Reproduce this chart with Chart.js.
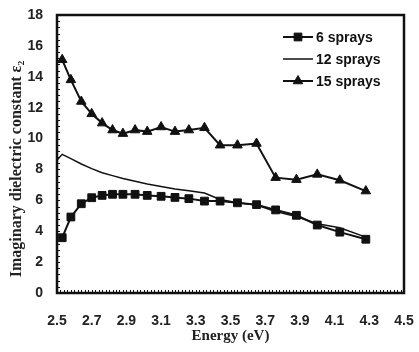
<!DOCTYPE html>
<html>
<head>
<meta charset="utf-8">
<script src="https://cdn.jsdelivr.net/npm/chart.js@4.4.1/dist/chart.umd.min.js"></script>
<style>
  html, body { margin: 0; padding: 0; background: #fff; }
  #wrap { width: 419px; height: 352px; position: relative; }
</style>
</head>
<body>
<div id="wrap"><canvas id="c"></canvas></div>
<script>
// Photon energy (eV) of each measured point
const energy = [2.53, 2.58, 2.64, 2.70, 2.76, 2.82, 2.88, 2.95, 3.02, 3.10, 3.18,
                3.26, 3.35, 3.44, 3.54, 3.65, 3.76, 3.88, 4.00, 4.13, 4.28];
// The 12-spray film has one extra reading just below 2.5 eV
const energy12 = [2.48, 2.53, 2.58, 2.64, 2.70, 2.76, 2.82, 2.88, 2.95, 3.02, 3.10, 3.18,
                  3.26, 3.35, 3.44, 3.54, 3.65, 3.76, 3.88, 4.00, 4.13, 4.28];

// Imaginary dielectric constant ε2 for each film
const sprays6  = [3.58, 4.92, 5.78, 6.17, 6.32, 6.39, 6.39, 6.39, 6.32, 6.26, 6.19,
                  6.11, 5.95, 5.95, 5.84, 5.72, 5.38, 5.03, 4.40, 3.94, 3.48];
const sprays12 = [8.35, 8.98, 8.70, 8.35, 8.05, 7.79, 7.60, 7.41, 7.23, 7.06, 6.90, 6.74,
                  6.62, 6.47, 6.05, 5.85, 5.70, 5.28, 4.95, 4.48, 4.22, 3.62];
const sprays15 = [15.1, 13.8, 12.4, 11.6, 11.0, 10.55, 10.32, 10.55, 10.45, 10.75, 10.45,
                  10.55, 10.7, 9.57, 9.57, 9.68, 7.47, 7.34, 7.68, 7.30, 6.60];

const seriesNames = ['6 sprays', '12 sprays', '15 sprays'];
const xTicks = [2.5, 2.7, 2.9, 3.1, 3.3, 3.5, 3.7, 3.9, 4.1, 4.3, 4.5];
const yTicks = [0, 2, 4, 6, 8, 10, 12, 14, 16, 18];
const yTitle = 'Imaginary dielectric constant ε₂';

const INK = '#111';
const SANS = "'Liberation Sans', Arial, sans-serif";
const SERIF = "'Liberation Serif', 'DejaVu Serif', serif";
const tickFont = { family: SANS, size: 14, weight: 'bold' };
const titleFont = { family: SERIF, size: 15, weight: 'bold' };

const pts = (xs, ys) => xs.map((x, i) => ({ x: x, y: ys[i] }));

// Plot frame plus small inward minor ticks along the bottom and left edges
const framePlugin = {
  id: 'frame',
  afterDraw(chart) {
    const { ctx, chartArea: a, scales } = chart;
    ctx.save();
    ctx.strokeStyle = INK;
    ctx.lineWidth = 1;
    const xs = scales.x, ys = scales.y;
    for (let i = 0; i <= 100; i++) {
      const px = Math.round(xs.getPixelForValue(xs.min + i * 0.02)) + 0.5;
      ctx.beginPath(); ctx.moveTo(px, a.bottom); ctx.lineTo(px, a.bottom - 3); ctx.stroke();
    }
    for (let i = 0; i <= 45; i++) {
      const py = Math.round(ys.getPixelForValue(ys.min + i * 0.4)) + 0.5;
      ctx.beginPath(); ctx.moveTo(a.left, py); ctx.lineTo(a.left + 3, py); ctx.stroke();
    }
    ctx.lineWidth = 2.5;
    ctx.strokeRect(a.left, a.top, a.right - a.left, a.bottom - a.top);

    // vertical axis title, set a little below the axis midpoint
    ctx.translate(17, a.bottom - 124);
    ctx.rotate(-Math.PI / 2);
    ctx.font = `bold 16px ${SERIF}`;
    ctx.fillStyle = '#222';
    ctx.textAlign = 'center';
    ctx.textBaseline = 'middle';
    ctx.fillText(yTitle, 0, 0);
    ctx.restore();
  }
};

// Legend box inside the upper-right corner of the plot
const legendPlugin = {
  id: 'innerLegend',
  afterDraw(chart) {
    const { ctx, chartArea: a } = chart;
    ctx.save();
    ctx.font = `bold 14px ${SANS}`;
    ctx.textBaseline = 'middle';
    ctx.textAlign = 'left';
    chart.data.datasets.forEach((ds, i) => {
      const y = a.top + 22 + i * 22;
      const x0 = a.right - 121, x1 = a.right - 91;
      ctx.strokeStyle = ds.borderColor;
      ctx.lineWidth = ds.borderWidth;
      ctx.beginPath(); ctx.moveTo(x0, y); ctx.lineTo(x1, y); ctx.stroke();
      if (ds.pointRadius > 0) {
        ctx.fillStyle = ds.pointBackgroundColor;
        ctx.strokeStyle = ds.pointBorderColor;
        ctx.lineWidth = 1;
        Chart.helpers.drawPoint(ctx, { pointStyle: ds.pointStyle, radius: ds.pointRadius, rotation: 0, borderWidth: 1 },
          (x0 + x1) / 2, y);
      }
      ctx.fillStyle = INK;
      ctx.fillText(ds.label, x1 + 3, y + 1);
    });
    ctx.restore();
  }
};

new Chart(document.getElementById('c'), {
  type: 'line',
  data: {
    datasets: [
      {
        label: seriesNames[0], data: pts(energy, sprays6),
        borderColor: INK, borderWidth: 2, pointStyle: 'rect', pointRadius: 5.5,
        pointBackgroundColor: INK, pointBorderColor: INK, pointBorderWidth: 1
      },
      {
        label: seriesNames[1], data: pts(energy12, sprays12),
        borderColor: INK, borderWidth: 1.5, pointRadius: 0,
        pointBackgroundColor: INK, pointBorderColor: INK
      },
      {
        label: seriesNames[2], data: pts(energy, sprays15),
        borderColor: INK, borderWidth: 2, pointStyle: 'triangle', pointRadius: 5.5,
        pointBackgroundColor: INK, pointBorderColor: INK, pointBorderWidth: 1
      }
    ]
  },
  options: {
    responsive: true,
    maintainAspectRatio: false,
    animation: false,
    layout: { padding: { top: 15, right: 15, left: 0, bottom: 0 } },
    plugins: { legend: { display: false }, tooltip: { enabled: false } },
    elements: { line: { tension: 0 } },
    scales: {
      x: {
        type: 'linear', position: 'bottom', min: 2.5, max: 4.5,
        afterBuildTicks: s => { s.ticks = xTicks.map(v => ({ value: v })); },
        afterFit: s => { s.height = 59; s.paddingLeft = 0; s.paddingRight = 0; },
        grid: { display: false, drawTicks: false },
        border: { display: false },
        ticks: { font: tickFont, color: '#222', padding: 20, maxRotation: 0, callback: v => v.toFixed(1) },
        title: { display: true, text: 'Energy (eV)', font: titleFont, color: '#222', padding: { top: 0, bottom: 7 } }
      },
      y: {
        min: 0, max: 18,
        afterBuildTicks: s => { s.ticks = yTicks.map(v => ({ value: v })); },
        afterFit: s => { s.width = 57; s.paddingTop = 0; s.paddingBottom = 0; },
        grid: { display: false, drawTicks: false },
        border: { display: false },
        ticks: { font: tickFont, color: '#222', padding: 14 },
        title: { display: false }
      }
    }
  },
  plugins: [framePlugin, legendPlugin]
});
</script>
</body>
</html>
